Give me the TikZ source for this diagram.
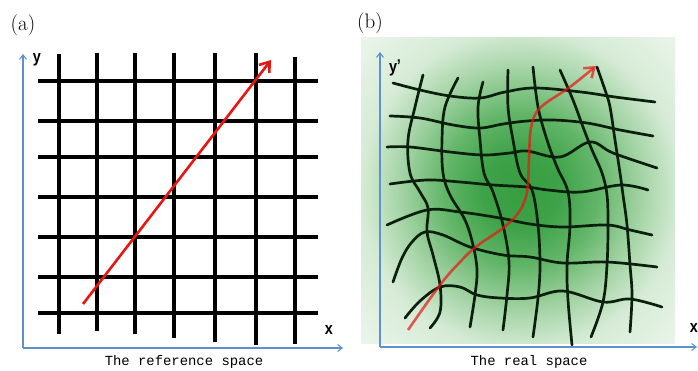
\documentclass[tikz,border=0pt]{standalone}
\usepackage{fontspec}
\newfontfamily\monof{Liberation Mono}
\newfontfamily\sansf{Liberation Sans}
\usetikzlibrary{arrows.meta}
\definecolor{axisblue}{RGB}{95,145,205}
\definecolor{gridgreen}{RGB}{10,32,12}
\definecolor{redarrow}{RGB}{232,22,18}
\definecolor{blob0}{RGB}{55,158,65}
\definecolor{blob1}{RGB}{62,162,72}
\definecolor{blob2}{RGB}{98,181,104}
\definecolor{blob3}{RGB}{165,212,166}
\definecolor{blob4}{RGB}{214,235,214}
\definecolor{blobbg}{RGB}{236,246,236}
\pgfdeclareradialshading{greenblob}{\pgfpoint{0bp}{0bp}}{color(0bp)=(blob0); color(6bp)=(blob1); color(12bp)=(blob2); color(19bp)=(blob3); color(25bp)=(blob4); color(35bp)=(blobbg); color(50bp)=(blobbg)}
\tikzset{
  axisline/.style={draw=axisblue, line width=1.1pt, -{Straight Barb[length=4.5pt,width=7pt]}},
  gridA/.style={draw=black, line width=3.1pt},
  gridB/.style={draw=gridgreen, line width=2.7pt, line cap=round},
  redA/.style={draw=redarrow, line width=2.6pt, -{Straight Barb[length=9pt,width=13pt,line width=2.6pt]}},
  redB/.style={draw=redarrow, draw opacity=0.7, line width=2.6pt, -{Straight Barb[length=9pt,width=13pt,line width=2.6pt]}},
  axlabel/.style={font=\sansf\bfseries\fontsize{17}{18}\selectfont, inner sep=0pt},
  caption/.style={font=\monof\fontsize{13.9}{16}\selectfont, inner sep=0pt},
  panellabel/.style={font=\fontsize{21}{24}\selectfont, inner sep=0pt}
}
\begin{document}
\begin{tikzpicture}[x=1pt,y=-1pt]
\useasboundingbox (0,0) rectangle (698,371);
\fill[white] (0,0) rectangle (698,371);

% ---------------- panel (a) ----------------
\node[panellabel] (la) at (23,25) {(a)};
\foreach \yy in {81,121,157,197,237,277,313}
  \draw[gridA] (38,\yy) -- (318,\yy);
\foreach \xx/\t/\b in {59/54/334, 97/53/331, 135/53/334, 174/53/338, 215/53/342, 256/53/345, 295/57/344}
  \draw[gridA] (\xx,\t) -- (\xx,\b);
\coordinate (ra0) at (83,304);
\coordinate (ra1) at (271,60);
\draw[redA] (ra0) -- (ra1);
\coordinate (oa) at (23,348);
\coordinate (ya) at (23,54);
\coordinate (xa) at (343,348);
\draw[axisline] (oa) -- (ya);
\draw[axisline] (oa) -- (xa);
\node[axlabel] (lya) at (37,60) {\scalebox{0.85}[1]{y}};
\node[axlabel] (lxa) at (329,330) {\scalebox{0.85}[1]{x}};
\node[caption] (capa) at (184,362) {The reference space};

% ---------------- panel (b) ----------------
\node[panellabel] (lb) at (370,23) {(b)};
\fill[blobbg] (361,38) rectangle (675,343);
\begin{scope}
  \clip (361,38) rectangle (675,343);
  \shade[shading=greenblob] (361,30) rectangle (681,350);
\end{scope}

% horizontal warped lines
\draw[gridB] plot[smooth,tension=0.6] coordinates {(393,83) (420,90) (450,96) (480,98) (505,92) (535,88) (581,92) (615,97) (655,102)};
\draw[gridB] plot[smooth,tension=0.6] coordinates {(390,116) (420,118) (453,125) (480,128) (503,124) (527,121) (553,120) (587,123) (620,130) (653,136)};
\draw[gridB] plot[smooth,tension=0.6] coordinates {(387,147) (410,147) (450,152) (483,155) (510,153) (527,151) (560,157) (590,142) (613,153) (657,168)};
\draw[gridB] plot[smooth,tension=0.6] coordinates {(390,184) (427,180) (460,182) (493,185) (527,187) (548,190) (581,192) (621,185) (648,190)};
\draw[gridB] plot[smooth,tension=0.6] coordinates {(387,225) (427,210) (460,212) (500,218) (530,224) (563,227) (607,225) (630,230) (652,235)};
\draw[gridB] plot[smooth,tension=0.6] coordinates {(393,282) (402,258) (412,242) (425,232) (443,235) (470,247) (503,255) (530,257) (563,263) (607,262) (657,267)};
\draw[gridB] plot[smooth,tension=0.6] coordinates {(405,318) (420,301) (440,287) (460,287) (477,295) (500,298) (530,298) (563,291) (603,302) (630,299) (662,307)};

% vertical warped lines
\draw[gridB] plot[smooth,tension=0.6] coordinates {(423,75) (415,107) (408,140) (410,173) (420,192) (428,208) (427,232) (433,255) (440,285) (440,312) (430,328)};
\draw[gridB] plot[smooth,tension=0.6] coordinates {(458,78) (445,107) (442,140) (443,173) (450,195) (465,220) (473,245) (477,270) (475,295) (470,327)};
\draw[gridB] plot[smooth,tension=0.6] coordinates {(483,82) (478,107) (480,140) (484,173) (493,192) (503,225) (509,262) (507,295) (503,330)};
\draw[gridB] plot[smooth,tension=0.6] coordinates {(508,70) (508,107) (513,140) (520,173) (532,190) (538,225) (540,265) (538,298) (533,337)};
\draw[gridB] plot[smooth,tension=0.6] coordinates {(533,67) (538,107) (547,140) (557,167) (568,192) (570,225) (567,265) (568,300) (572,345)};
\draw[gridB] plot[smooth,tension=0.6] coordinates {(560,70) (573,100) (583,127) (592,150) (602,173) (607,195) (608,225) (607,265) (603,302) (591,337)};
\draw[gridB] plot[smooth,tension=0.6] coordinates {(597,67) (605,90) (610,107) (615,140) (620,173) (623,195) (627,225) (630,265) (632,295) (630,332)};

% red curve
\draw[redB] plot[smooth,tension=0.6] coordinates {(408,330) (440,285) (460,262) (477,246) (503,228) (519,212) (527,192) (529,160) (531,128) (540,108) (570,87) (596,66)};

\coordinate (ob) at (380,347);
\coordinate (yb) at (380,52);
\coordinate (xb) at (697,347);
\draw[axisline] (ob) -- (yb);
\draw[axisline] (ob) -- (xb);
\node[axlabel] (lyb) at (395,68) {\scalebox{0.85}[1]{y\kern-0.5pt\raisebox{1pt}{\textquoteright}}};
\node[axlabel] (lxb) at (694,328) {\scalebox{0.85}[1]{x}};
\node[caption] (capb) at (529,362) {The real space};
\end{tikzpicture}
\end{document}
